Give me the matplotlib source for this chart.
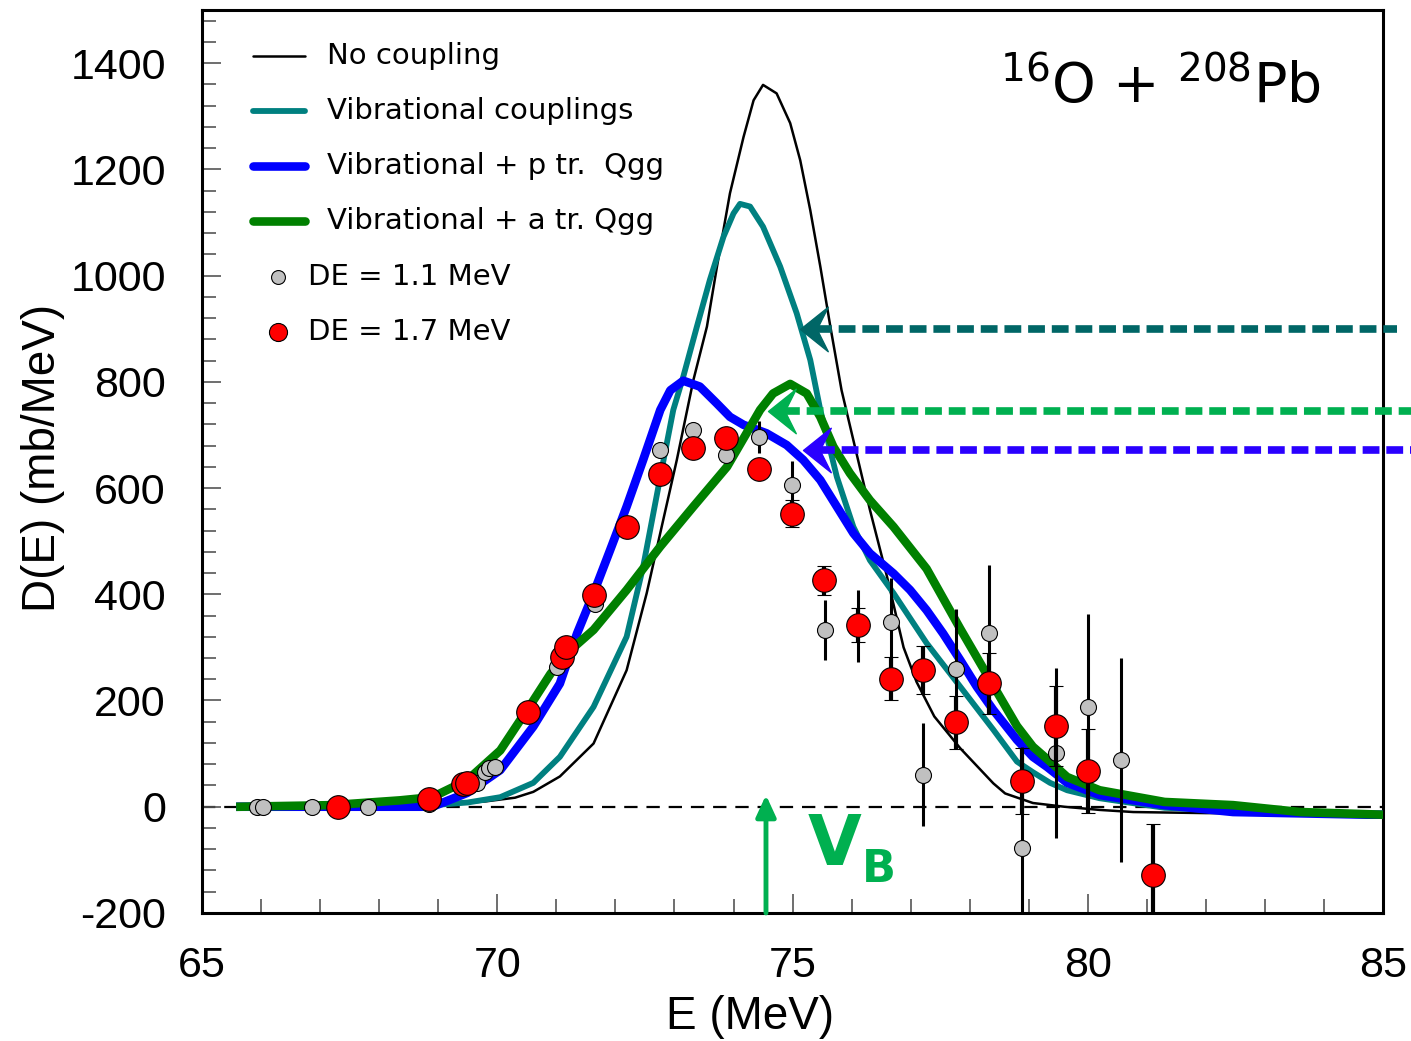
import numpy as np
import matplotlib
matplotlib.use("Agg")
import matplotlib.pyplot as plt
from matplotlib.path import Path

plt.rcParams['font.family'] = ['Liberation Sans', 'DejaVu Sans']
plt.rcParams['axes.unicode_minus'] = False

# curves
E_nocoup = [65.65, 67.0, 68.0, 69.0, 69.8, 70.3, 70.61, 71.06, 71.63, 72.19, 72.53, 72.81, 73.04,
            73.32, 73.55, 73.72, 73.94, 74.17, 74.34, 74.5, 74.73, 74.96, 75.13, 75.3, 75.47,
            75.64, 75.83, 76.03, 76.31, 76.6, 76.88, 77.1, 77.4, 77.84, 78.4, 78.6, 79.07, 79.6,
            80.2, 80.77, 82.0, 83.5, 85.0]
D_nocoup = [0, 0, 1, 3, 10, 17, 28, 57, 119, 257, 402, 540, 653,
            803, 904, 1017, 1155, 1261, 1330, 1359, 1343, 1287, 1217, 1123, 1017,
            904, 784, 690, 559, 433, 300, 235, 170, 110, 44, 25, 7, 0,
            -6, -10, -12, -12, -12]

E_vib = [65.65, 67.5, 68.91, 69.5, 70.05, 70.61, 71.06, 71.63, 72.19, 72.47, 72.76, 72.98, 73.15,
         73.38, 73.6, 73.83, 74.0, 74.11, 74.28, 74.5, 74.79, 75.07, 75.3, 75.47, 75.75,
         76.03, 76.31, 76.71, 77.27, 77.84, 78.4, 78.8, 79.07, 79.36, 79.65, 80.2, 81.3,
         82.5, 84.0, 85.0]
D_vib = [0, 0, 3, 8, 18, 45, 94, 188, 320, 452, 621, 747, 810,
         904, 992, 1073, 1117, 1135, 1130, 1092, 1017, 929, 841, 747, 621,
         527, 464, 402, 308, 226, 145, 85, 65, 45, 31, 16, -2,
         -8, -12, -14]

E_ptr = [65.65, 67.5, 68.9, 69.49, 70.05, 70.61, 71.06, 71.35, 71.63, 71.91, 72.19, 72.47, 72.76,
         72.93, 73.15, 73.43, 73.72, 73.94, 74.17, 74.56, 74.9, 75.18, 75.47, 75.75, 76.03,
         76.31, 76.71, 76.99, 77.27, 77.55, 77.84, 78.12, 78.4, 78.8, 79.07, 79.31, 79.65,
         80.2, 81.3, 82.46, 84.73, 85.0]
D_ptr = [0, 0, 0, 26, 69, 151, 232, 326, 402, 483, 565, 653, 747,
         784, 802, 791, 759, 734, 719, 703, 681, 653, 615, 565, 515,
         477, 439, 408, 370, 326, 276, 226, 182, 126, 94, 75, 45,
         22, 3, -10, -15, -15]

E_atr = [65.65, 67.2, 68.35, 68.9, 69.49, 70.05, 70.61, 70.9, 71.18, 71.63, 72.19, 72.76, 73.32,
         73.89, 74.22, 74.45, 74.67, 74.96, 75.24, 75.47, 75.69, 75.97, 76.31, 76.71, 77.27,
         77.84, 78.4, 78.8, 79.07, 79.36, 79.65, 80.2, 81.3, 82.46, 83.6, 85.0]
D_atr = [0, 3, 12, 18, 50, 106, 200, 250, 289, 333, 408, 490, 565,
         640, 703, 747, 778, 796, 778, 734, 678, 628, 577, 527, 448,
         335, 228, 152, 113, 85, 56, 31, 9, 3, -10, -15]

# data, DE = 1.1 MeV
E_g = [65.93, 66.03, 66.86, 67.81, 68.84, 69.66, 69.8, 69.86, 69.96, 71.01, 71.66, 72.76, 73.31,
       73.87, 74.43, 74.99, 75.55, 76.11, 76.67, 77.21, 77.77, 78.33, 78.89, 79.46, 80.0, 80.56]
D_g = [0, 0, 0, 0, 5, 45, 66, 72, 75, 263, 382, 672, 709,
       662, 696, 605, 333, 340, 347, 60, 260, 328, -77, 101, 188, 88]
err_g = [0, 0, 0, 0, 0, 0, 0, 0, 0, 0, 0, 0, 15,
         0, 30, 45, 56, 68, 83, 97, 112, 127, 190, 160, 175, 192]

# data, DE = 1.7 MeV
E_r = [67.3, 68.84, 69.42, 69.49, 70.52, 71.1, 71.16, 71.64, 72.2, 72.76, 73.32, 73.87, 74.43,
       74.99, 75.54, 76.11, 76.67, 77.21, 77.77, 78.33, 78.89, 79.46, 80.0, 81.11]
D_r = [0, 15, 43, 45, 178, 282, 300, 398, 527, 627, 675, 694, 636,
       552, 426, 342, 241, 257, 159, 232, 48, 152, 67, -128]
err_r = [0, 0, 0, 0, 0, 0, 0, 0, 0, 0, 0, 0, 15,
         25, 28, 32, 40, 45, 50, 58, 62, 75, 79, 95]

# barrier-distribution arrows: tip E, D, right end E, colour
arrow_tip = [75.13, 74.58, 75.18]
arrow_D = [899, 745, 672]
arrow_end = [85.24, 85.5, 85.5]
arrow_col = ['#006666', '#00B050', '#2A00FF']
E_VB = 74.55

curve_labels = ['No coupling', 'Vibrational couplings', 'Vibrational + p tr.  Qgg', 'Vibrational + a tr. Qgg']
curve_cols = ['black', '#008080', '#0000FF', '#008000']
curve_lw = [1.8, 4.2, 6.2, 6.2]

fig = plt.figure(figsize=(14.11, 10.41), dpi=100)
ax = fig.add_axes([0.1432, 0.1230, 0.8370, 0.8674])

ax.axhline(0, color='black', lw=1.6, dashes=(6, 4), zorder=1)

curves = [(E_nocoup, D_nocoup), (E_vib, D_vib), (E_ptr, D_ptr), (E_atr, D_atr)]
for i, (e, d) in enumerate(curves):
    ax.plot(e, d, color=curve_cols[i], lw=curve_lw[i], solid_joinstyle='round', zorder=2 + i)

ax.errorbar(E_g, D_g, yerr=err_g, fmt='o', ms=11.5, mfc='#C0C0C0', mec='black', mew=0.8,
            ecolor='black', elinewidth=2.2, capsize=0, zorder=7)
ax.errorbar(E_r, D_r, yerr=err_r, fmt='o', ms=17, mfc='#FF0000', mec='black', mew=0.8,
            ecolor='black', elinewidth=3.0, capsize=5, capthick=3.0, zorder=9)

# arrows with stealth heads
head = Path([(0, 0), (1.0, 0.8), (0.6, 0), (1.0, -0.8), (0, 0)],
            [Path.MOVETO, Path.LINETO, Path.LINETO, Path.LINETO, Path.CLOSEPOLY])
for tip, d, end, c in zip(arrow_tip, arrow_D, arrow_end, arrow_col):
    ax.plot([tip + 0.25, end], [d, d], color=c, lw=5.5, dashes=(2.2, 0.9),
            solid_capstyle='butt', clip_on=False, zorder=10)
    ax.plot([tip], [d], marker=head, ms=40, color=c, mec=c, clip_on=False, zorder=10)

ax.annotate('', xy=(E_VB, 22), xytext=(E_VB, -200),
            arrowprops=dict(arrowstyle='-|>,head_length=1.3,head_width=0.6', color='#00B050',
                            lw=3.5, shrinkA=0, shrinkB=0), zorder=10)
ax.text(75.26, -109, 'V', color='#00B050', fontsize=50, fontweight='bold',
        family='DejaVu Sans', va='baseline', ha='left')
ax.text(76.18, -141, 'B', color='#00B050', fontsize=32, fontweight='bold',
        family='DejaVu Sans', va='baseline', ha='left')

ax.text(0.676, 0.897, r'$^{16}$O + $^{208}$Pb', transform=ax.transAxes, fontsize=40,
        family='DejaVu Sans', va='baseline', ha='left')

# legend drawn by hand
leg_y = [0.9491, 0.8882, 0.8272, 0.7663, 0.7043, 0.6434]
for i, lab in enumerate(curve_labels):
    ax.plot([0.0432, 0.0872], [leg_y[i]] * 2, transform=ax.transAxes, color=curve_cols[i],
            lw=curve_lw[i], solid_capstyle='round', zorder=11)
    ax.text(0.1058, leg_y[i], lab, transform=ax.transAxes, fontsize=21, family='DejaVu Sans',
            va='center', ha='left')
for j, (lab, fc, ms) in enumerate([('DE = 1.1 MeV', '#C0C0C0', 10), ('DE = 1.7 MeV', '#FF0000', 13)]):
    y = leg_y[4 + j]
    ax.plot([0.0644], [y], 'o', transform=ax.transAxes, ms=ms, mfc=fc, mec='black', mew=0.8,
            zorder=11)
    ax.text(0.0898, y, lab, transform=ax.transAxes, fontsize=21, family='DejaVu Sans',
            va='center', ha='left')

ax.set_xlim(65, 85)
ax.set_ylim(-200, 1500)
ax.set_xticks([65, 70, 75, 80, 85])
ax.set_xticks(np.arange(65, 86, 1), minor=True)
ax.set_yticks(np.arange(-200, 1401, 200))
ax.set_yticks(np.arange(-200, 1501, 40), minor=True)

for sp in ax.spines.values():
    sp.set_linewidth(2.2)
ax.tick_params(which='both', direction='in', color='#555555', width=1.2, labelsize=31)
ax.tick_params(which='major', length=14)
ax.tick_params(which='minor', length=10)
ax.tick_params(axis='y', pad=26)
ax.tick_params(axis='x', pad=24)

ax.set_xlabel('E (MeV)', fontsize=33)
ax.set_ylabel('D(E) (mb/MeV)', fontsize=33)
ax.xaxis.set_label_coords(0.464, -0.091)
ax.yaxis.set_label_coords(-0.116, 0.504)

fig.savefig('out.png', dpi=100)
